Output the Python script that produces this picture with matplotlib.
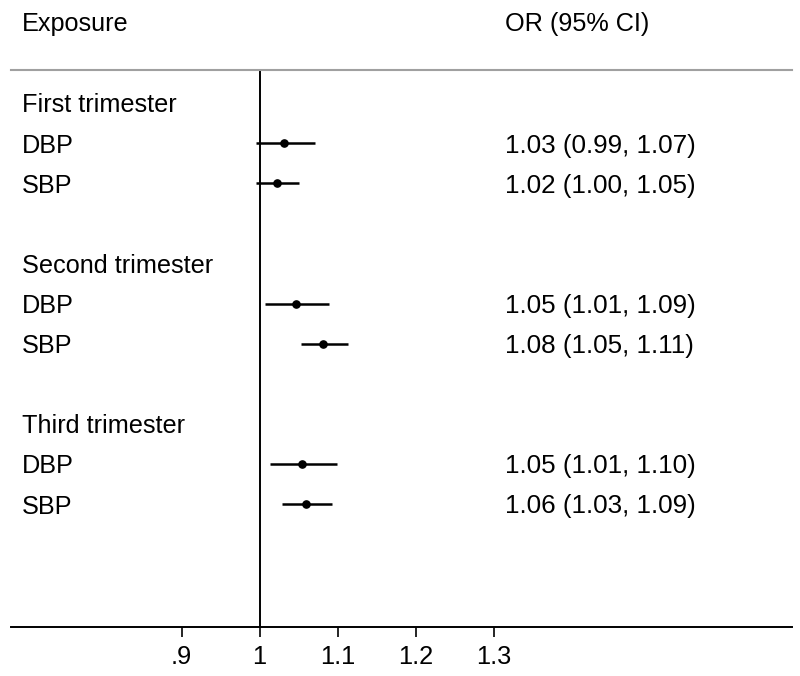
import matplotlib
matplotlib.use("Agg")
import matplotlib.pyplot as plt
from matplotlib.transforms import blended_transform_factory

plt.rcParams['font.family'] = ['Liberation Sans', 'DejaVu Sans']

# Data
labels = ["First trimester", "DBP", "SBP", "Second trimester", "DBP", "SBP",
          "Third trimester", "DBP", "SBP"]
rows = [0, 1, 2, 4, 5, 6, 8, 9, 10]
or_vals = [None, 1.031, 1.023, None, 1.047, 1.081, None, 1.055, 1.060]
ci_low = [None, 0.995, 0.996, None, 1.007, 1.053, None, 1.013, 1.029]
ci_high = [None, 1.071, 1.050, None, 1.089, 1.113, None, 1.099, 1.093]
or_text = [None, "1.03 (0.99, 1.07)", "1.02 (1.00, 1.05)", None,
           "1.05 (1.01, 1.09)", "1.08 (1.05, 1.11)", None,
           "1.05 (1.01, 1.10)", "1.06 (1.03, 1.09)"]
xticks = [0.9, 1.0, 1.1, 1.2, 1.3]
xticklabels = [".9", "1", "1.1", "1.2", "1.3"]

W, H = 800, 676
fig = plt.figure(figsize=(W / 100, H / 100), dpi=100)

ax_left, ax_right = 11, 792
ax_top, ax_bottom = 70, 627
ax = fig.add_axes([ax_left / W, 1 - ax_bottom / H, (ax_right - ax_left) / W,
                   (ax_bottom - ax_top) / H])

px_per_unit = 780.0
x0 = 259.5
ax.set_xlim(1 + (ax_left - x0) / px_per_unit, 1 + (ax_right - x0) / px_per_unit)
row0, rowh = 103.0, 40.1
ax.set_ylim((ax_bottom - row0) / rowh, (ax_top - row0) / rowh)

for r, m, lo, hi in zip(rows, or_vals, ci_low, ci_high):
    if m is None:
        continue
    ax.plot([lo, hi], [r, r], color='black', lw=1.8, solid_capstyle='butt', zorder=3)
    ax.plot([m], [r], marker='o', color='black', markersize=5.2, zorder=4)

ax.axvline(1.0, color='black', lw=1.4, zorder=2)

for s in ['left', 'right']:
    ax.spines[s].set_visible(False)
ax.spines['top'].set_color('#a0a0a0')
ax.spines['top'].set_linewidth(1.5)
ax.spines['bottom'].set_color('black')
ax.spines['bottom'].set_linewidth(1.4)

ax.set_yticks([])
ax.set_xticks(xticks)
ax.set_xticklabels(xticklabels, fontsize=18.3)
ax.tick_params(axis='x', length=7, width=1.2, pad=6, color='black')

trans = blended_transform_factory(fig.transFigure, ax.transData)
for r, lab, t in zip(rows, labels, or_text):
    ax.text(22 / W, r, lab, transform=trans, ha='left', va='center_baseline',
            fontsize=18.2, clip_on=False)
    if t is not None:
        ax.text(505 / W, r, t, transform=trans, ha='left', va='center_baseline',
                fontsize=18.7, clip_on=False)

fig.text(22 / W, 1 - 22 / H, "Exposure", ha='left', va='center_baseline', fontsize=18.2)
fig.text(505 / W, 1 - 22 / H, "OR (95% CI)", ha='left', va='center_baseline', fontsize=18.2)

fig.savefig("out.png", dpi=100, facecolor='white')
